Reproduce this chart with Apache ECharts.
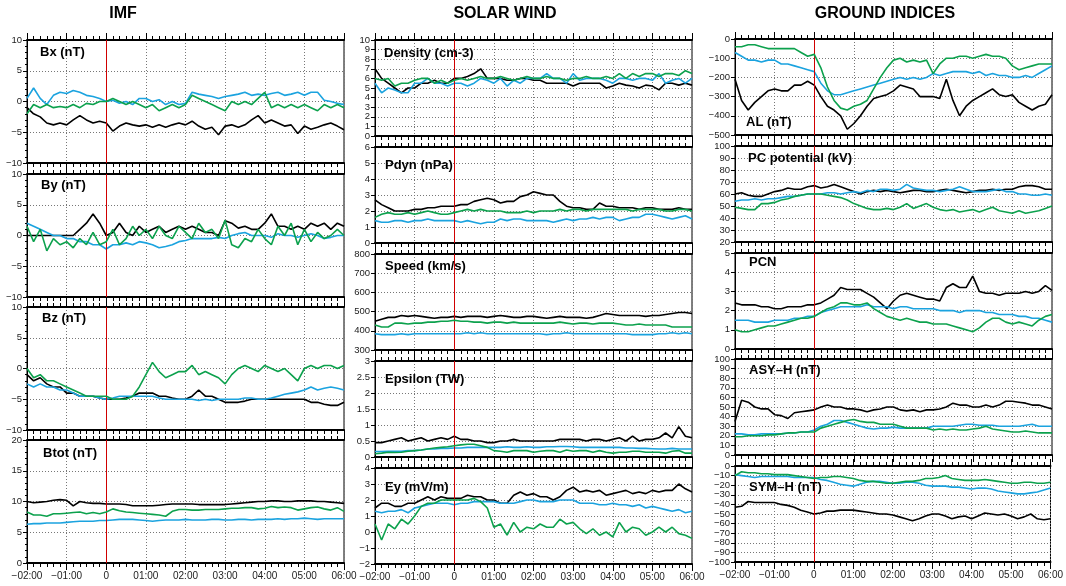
<!DOCTYPE html>
<html><head><meta charset="utf-8">
<script src="https://cdn.jsdelivr.net/npm/echarts@6/dist/echarts.min.js"></script>
<style>html,body{margin:0;padding:0;background:#fff}#c{width:1066px;height:586px}</style>
</head><body><div id="c"></div>
<script>
const times=[-120,-110,-100,-90,-80,-70,-60,-50,-40,-30,-20,-10,0,10,20,30,40,50,60,70,80,90,100,110,120,130,140,150,160,170,180,190,200,210,220,230,240,250,260,270,280,290,300,310,320,330,340,350,360];
const xTicks=[-120,-60,0,60,120,180,240,300,360];
const xTickLabels=['\u221202:00','\u221201:00','0','01:00','02:00','03:00','04:00','05:00','06:00'];
const columnTitles=['IMF','SOLAR WIND','GROUND INDICES'];
const seriesColors=['#000000','#1ba3df','#0ca14d'];

// y tick labels (bottom to top)
const ytB=['\u221210','\u22125','0','5','10'];
const ytBtot=['0','5','10','15','20'];
const ytDen=['0','1','2','3','4','5','6','7','8','9','10'];
const ytPdyn=['0','1','2','3','4','5','6'];
const ytSpeed=['300','400','500','600','700','800'];
const ytEps=['0','0.5','1','1.5','2','2.5','3'];
const ytEy=['\u22122','\u22121','0','1','2','3','4'];
const ytAL=['\u2212500','\u2212400','\u2212300','\u2212200','\u2212100','0'];
const ytPC=['20','30','40','50','60','70','80','90','100'];
const ytPCN=['0','1','2','3','4','5'];
const ytASY=['0','10','20','30','40','50','60','70','80','90','100'];
const ytSYM=['\u2212100','\u221290','\u221280','\u221270','\u221260','\u221250','\u221240','\u221230','\u221220','\u221210','0'];

// IMF
const bxK=[-1,-2,-2.5,-3.5,-3.8,-3.5,-3.8, -3,-2.3,-3,-3.5,-3.2,-3.5,-4.8, -4,-3.5,-3.8,-4,-3.8,-4.2,-3.8, -4.2,-3.8,-3.5,-3.8,-3.2,-4,-4.5, -4.2,-5.4,-4,-3.8,-4.2,-3.8,-3, -2.3,-3.5,-3,-3.5,-4,-3.8,-5.2, -4,-4.5,-4.2,-3.8,-3.5,-4,-4.6];
const bxB=[0.5,2.2,0.5,-0.5,1,1.5,1.3, 1.8,1.5,1,0.8,0.5,0,0.2, -0.3,0,-0.5,0.5,0.5,0,0.3, -0.5,0,-0.5,-0.3,1.5,1.2,1, 0.8,0.5,0.8,1,1.2,1.5,1, 1.2,1,1.3,1.5,1,1.2,1.5, 1,1.5,1.5,0.2,0,-0.3,-0.5];
const bxG=[-2,-0.5,-1,-0.5,-1,-0.8,-1, -0.5,-1,-0.3,-0.5,0,0,0.5, 0,-0.5,0,-0.5,-1,-0.5,-1.5, -1,-0.5,-1,-0.5,1,0.5,0, -0.5,-1,-1.5,0,-0.5,0,-0.5, 0.5,1.5,-1,-0.5,-1,-0.5,-1, -0.5,-1,-1.5,-0.5,-1,-0.5,-1];
const byK=[0,0,0,0,0,0,0, 0,1,2,3.5,2,0,0.5, 2,0.5,0,1.5,0.5,1,1.5, 0.5,1,1.5,1,1.5,1,0.5, 0.5,0,2.4,2,1.2,1.5,1, 1,2,3.5,1.5,1.5,1,1.5, 1,2,1.5,2,1,2,1.5];
const byB=[2,1.5,1,0.5,0,0,-0.5, -0.5,-1,-1,-1.5,-1.5,-2.2,-1.5, -1.5,-1.2,-1.5,-1,-1.2,-1.5,-2, -1.8,-1.5,-1,-0.8,-0.5,-0.5,-0.5, -0.5,-0.3,-0.5,0,0.3,0.5,0, 0,0,-0.3,0.3,0,0,-0.3, 0,0.3,0,-0.5,-0.3,0,0];
const byG=[1.5,-1,1,-2.5,-0.5,-1.5,-1, -2,-0.5,-1.5,0.5,-1.5,-1,1, -1.5,-0.5,1.5,0,1,-0.5,1.5, 0,-0.5,1.5,0.5,-0.5,2,0.5, 1,-0.5,2.5,-1.5,-2,-0.5,-1, 1,-0.5,-1.5,1.5,0,2,-1.5, 1,-1,0.5,-0.5,0,1,0];
const bzK=[-1,-2,-1.5,-2.5,-3,-3,-4, -4,-4.5,-4.5,-4.5,-4.8,-5,-5, -5,-4.8,-4.5,-4,-4,-4,-4.5, -4.5,-4.8,-5,-5,-4.5,-3.5,-4.5, -4.5,-5,-5.5,-5.5,-5.5,-5.3,-5, -5,-5,-5,-5,-5,-5,-5, -5,-5.5,-5.5,-5.8,-6,-6,-5.5];
const bzB=[-2.5,-3,-2.5,-3,-3,-3.5,-3.5, -4,-4.5,-4.5,-4.5,-4.8,-5,-4.8, -4.5,-4.5,-4.5,-4.5,-4.5,-4.5,-4.8, -5,-5,-5,-5,-5,-5.2,-5, -5.2,-5,-5,-5,-5,-4.8,-4.8, -5,-5,-4.8,-4.5,-4.2,-4,-3.8, -3.5,-3,-3.5,-3.2,-3,-3.2,-3.5];
const bzG=[0,-1.5,-1,-2,-2,-2.5,-3, -3.5,-4,-4.5,-4.5,-4.5,-4.5,-5, -5,-5,-4.5,-3,-1,1,-0.5, -1.5,-1,-0.5,-0.5,0.5,-1,-0.5, -1,-1.5,-2.5,-1,0,0.5,0, -0.5,0.5,0,-0.5,0,-1,-2, 0,0.5,0,0.5,0.5,0,0.5];
const btK=[10,9.8,9.9,10,10.2,10.3,10.2, 9.3,10,9.8,9.7,9.7,9.6,9.6, 9.6,9.5,9.3,9.3,9.3,9.3,9.4, 9.5,9.6,9.6,9.6,9.6,9.5,9.5, 9.5,9.5,9.5,9.6,9.7,9.8,9.9, 10,10,10.1,10.1,10,10,10.1, 10.1,10.1,10,10,9.9,9.8,9.7];
const btB=[6.3,6.4,6.4,6.5,6.5,6.5,6.6, 6.7,6.8,6.8,6.8,6.9,6.9,7, 7.1,7.1,7.1,7,6.9,6.8,6.9, 7,7,7,7.1,7,7,7, 7.1,7.1,7,7,7.1,7.1,7, 7.1,7.1,7.1,7.2,7.1,7.2,7.2, 7.3,7.2,7.1,7.2,7.2,7.2,7.2];
const btG=[8.3,7.8,7.8,7.6,8,8,8.1, 8.2,8.3,8,8.2,8,8.3,8.8, 8.5,8.3,8.2,8.1,8,7.9,7.8, 7.6,8.4,8.7,8.7,8.6,8.6,8.7, 8.7,8.7,8.8,8.9,8.9,9,9, 8.8,8.9,9.2,9,9.1,9,8.6, 8.8,9,9.1,8.8,8.6,9,8.4];

// SOLAR WIND
const denK=[7,6,5.5,5,4.5,5,5, 5.5,5.5,5.8,5.5,5.5,6,6, 6.2,6.5,7,6,6,6,5.8, 5.8,6,6,5.8,5.8,5.5,5.5, 5.5,5.5,5.2,5.5,5.5,5.5,5.5, 5,5.2,5.5,5.3,5.2,5,5.3, 5.2,4.8,5.5,5.5,5.3,5.5,5.3];
const denB=[5.5,4.5,5,4.8,4.5,4.5,5.5, 5.5,6,5.5,5.5,5.2,5.5,5.5, 5.2,5.5,6,5.8,5.5,6,5.2, 5.8,5.5,6,6,6,6.5,6, 6,5.5,6.5,5.8,6,6,6, 5.8,5.5,6,6,5.8,6,6, 5.8,6.5,5.5,5.8,6,5.5,6];
const denG=[6,5.8,6,5.2,5.5,5.5,5.8, 6,6,5.5,5.8,5.5,5.8,6, 5.8,6,6.2,6,6,6.2,6, 5.8,6,6.2,6,6,6.2,6, 6,5.8,6,6,6.2,6,6, 6.2,6,6.5,6,6.5,6.2,6.5, 6.5,6.2,6.5,6.5,6.3,6.8,6.5];
const pdK=[2.7,2.4,2.2,2,2,2,2.1, 2.1,2.2,2.2,2.3,2.3,2.3,2.4, 2.4,2.6,2.7,2.8,2.7,2.5,2.6, 2.6,2.9,3,3.2,3.1,3,3, 2.6,2.3,2.2,2.2,2.1,2.1,2.5, 2.3,2.3,2.2,2.2,2.2,2.1,2.2, 2.2,2.1,2.1,2.1,2.2,2.1,2.1];
const pdB=[1.4,1.3,1.3,1.4,1.4,1.3,1.4, 1.4,1.5,1.4,1.4,1.4,1.4,1.3, 1.4,1.3,1.2,1.3,1.3,1.5,1.4, 1.5,1.5,1.4,1.4,1.4,1.4,1.3, 1.4,1.5,1.4,1.5,1.5,1.6,1.5, 1.6,1.6,1.4,1.5,1.6,1.6,1.8, 1.8,1.7,1.6,1.5,1.6,1.7,1.5];
const pdG=[1.6,1.8,1.9,1.8,1.8,1.9,1.8, 1.9,2,1.9,1.8,1.8,1.9,2, 2.1,2,2.1,2,2,2,1.9, 1.9,1.9,2,1.9,2,2,2, 2.1,2,2.1,2.1,2,2.1,2.1, 2.1,2.1,2.1,2.1,2,2.1,2.1, 2.1,2.1,2,2,2.1,2.1,2];
const spK=[450,460,470,470,480,475,480, 475,470,465,470,470,475, 470,475,475,475,470,475, 480,475,470,470,475,475, 470,465,470,475,470,470, 470,465,470,480,490,485, 480,480,480,480,475,480, 480,485,490,495,495,490];
const spB=[385,380,380,380,385,380,385, 385,385,385,385,385,385, 385,390,385,390,385,385, 385,385,385,385,385,385, 385,380,385,385,390,385, 385,385,385,385,385,385, 385,385,380,380,380,380, 385,385,390,385,390,385];
const spG=[430,420,420,440,440,435,440, 440,445,445,450,450,455, 450,450,445,445,440,445, 445,440,445,440,440,440, 440,440,440,445,440,435, 440,440,435,440,440,440, 435,430,430,435,430,430, 430,430,420,420,420,420];
const epK=[0.45,0.45,0.5,0.55,0.6,0.5,0.55, 0.6,0.5,0.55,0.6,0.55,0.65,0.55, 0.55,0.5,0.5,0.45,0.45,0.5,0.5, 0.55,0.5,0.5,0.5,0.5,0.5,0.5, 0.55,0.55,0.55,0.55,0.5,0.55,0.55, 0.5,0.55,0.6,0.5,0.65,0.5,0.55, 0.55,0.6,0.75,0.6,0.95,0.65,0.6];
const epB=[0.17,0.17,0.18,0.18,0.18,0.2,0.2, 0.22,0.25,0.25,0.27,0.27,0.28,0.28, 0.3,0.3,0.3,0.3,0.3,0.3,0.32, 0.3,0.3,0.32,0.3,0.3,0.32,0.32, 0.33,0.33,0.32,0.3,0.3,0.3,0.3, 0.3,0.3,0.3,0.28,0.28,0.27,0.27, 0.26,0.25,0.25,0.27,0.25,0.25,0.25];
const epG=[0.1,0.12,0.15,0.14,0.15,0.18,0.2, 0.22,0.25,0.28,0.3,0.32,0.35,0.38, 0.4,0.4,0.35,0.3,0.2,0.18,0.15, 0.2,0.2,0.2,0.15,0.18,0.2,0.2, 0.15,0.22,0.18,0.2,0.2,0.15,0.2, 0.15,0.12,0.15,0.15,0.18,0.18,0.15, 0.15,0.15,0.12,0.18,0.2,0.12,0.12];
const eyK=[1.5,1.8,1.8,1.6,1.6,1.8,1.8, 2,2.2,2,2.2,2.1,2.1,2.1, 2.3,2.2,2.2,2,2,1.8,1.8, 2.3,2.5,2.3,2.4,2.2,2.2,2, 2.2,2.6,2.8,2.5,2.6,2.5,2.6, 2.3,2.4,2.5,2.6,2.4,2.5,2.4, 2.6,2.5,2.6,2.6,3,2.7,2.5];
const eyB=[1.3,1.2,1.3,1.3,1.4,1.2,1.5, 1.6,1.7,1.8,1.8,1.8,1.7,1.8, 1.8,1.9,1.9,1.9,1.9,1.8,1.8, 1.8,1.9,2,2,1.9,1.9,1.9, 2,2,2,1.8,1.8,1.8,1.7, 1.7,1.8,1.7,1.7,1.6,1.7,1.5, 1.6,1.5,1.4,1.3,1.4,1.2,1.3];
const eyG=[0.5,-0.5,0.5,0.2,0.8,0.5,1, 1.6,1.8,1.8,2,2,2,2, 2,2.1,1.9,1.5,0.3,0.5,-0.2, 0.6,0,0.3,0.2,0.5,0.3,0.3, 0.8,0.5,0.6,0.2,-0.1,0.2,-0.2, 0,-0.3,0.6,0,0.3,0.2,-0.2, 0,0.3,0,0.3,-0.1,-0.2,-0.4];

// GROUND INDICES
const alK=[-210,-320,-370,-330,-300,-270,-260, -270,-270,-240,-240,-220,-240,-300, -350,-370,-400,-470,-440,-400,-350, -310,-300,-290,-270,-240,-250,-260, -300,-300,-300,-310,-210,-320,-400, -350,-320,-300,-280,-260,-290,-300, -290,-330,-350,-370,-350,-340,-290];
const alB=[-70,-90,-110,-110,-120,-110,-110, -130,-130,-140,-150,-160,-170,-230, -270,-290,-290,-280,-270,-260,-250, -240,-230,-220,-210,-200,-210,-200, -210,-200,-180,-190,-180,-170,-170, -170,-180,-170,-190,-180,-190,-190, -200,-200,-190,-200,-180,-160,-140];
const alG=[-40,-40,-30,-30,-40,-50,-50, -50,-50,-50,-70,-90,-80,-150, -250,-320,-360,-370,-350,-340,-320, -260,-200,-150,-110,-100,-120,-110, -120,-110,-180,-130,-100,-100,-90, -90,-100,-90,-80,-90,-90,-100, -140,-160,-150,-140,-130,-130,-130];
const pcK=[60,61,59,58,58,60,62, 63,65,64,64,66,67,65, 66,68,66,64,62,60,62, 63,62,63,62,61,62,63, 63,62,62,63,64,63,62, 61,62,63,63,64,63,64, 64,66,67,67,66,64,64];
const pcB=[54,55,55,56,55,56,56, 57,58,58,59,60,60,60, 61,61,60,61,62,61,63, 62,64,64,63,64,68,65, 64,63,63,62,63,64,66, 64,62,62,62,63,64,62, 62,60,60,59,59,60,59];
const pcG=[49,48,47,47,52,52,53, 55,56,58,59,60,60,60, 59,58,57,55,52,50,48, 47,47,48,47,49,52,48, 50,52,49,47,46,47,45, 46,47,45,47,49,46,45, 44,46,44,45,46,48,50];
const pcnK=[2.4,2.3,2.3,2.3,2.2,2.2,2.1, 2.1,2.2,2.2,2.2,2.3,2.3,2.4, 2.6,2.8,3.2,3.1,3.1,3.1,2.9, 2.7,2.4,2.1,2.5,2.8,2.9,2.8, 2.7,2.6,2.6,2.5,3.2,3.4,3.2, 3.2,3.8,3,2.9,2.9,2.8,2.9, 2.9,2.9,3,2.9,3,3.3,3.05];
const pcnB=[1.5,1.5,1.5,1.4,1.4,1.4,1.5, 1.5,1.5,1.6,1.6,1.7,1.7,1.9, 2,2.1,2.2,2.2,2.2,2.2,2.3, 2.2,2.2,2.2,2.1,2.2,2.2,2.1, 2.1,2.1,2.1,2,2,2,1.9, 2,2,2,1.9,1.9,1.8,1.8, 1.8,1.7,1.7,1.6,1.6,1.5,1.4];
const pcnG=[1,0.9,0.9,1,1.1,1.2,1.2, 1.3,1.4,1.5,1.6,1.6,1.7,1.9, 2.1,2.2,2.4,2.4,2.3,2.3,2.4, 2.1,1.9,1.7,1.6,1.5,1.6,1.5, 1.4,1.4,1.3,1.3,1.3,1.2,1.1, 1,0.9,1.1,1.4,1.6,1.6,1.4, 1.3,1.4,1.3,1.2,1.5,1.7,1.8];
const asK=[35,57,55,50,48,48,42, 41,38,44,45,46,47,50, 52,50,50,48,48,47,45, 47,48,50,50,47,46,47, 45,47,47,48,50,54,52, 52,50,50,52,50,52,56, 56,55,54,52,52,50,48];
const asB=[22,22,21,21,22,22,22, 22,23,23,24,24,26,30, 32,36,36,34,32,30,28, 27,28,28,29,28,28,28, 28,28,30,30,30,30,31, 32,32,31,31,31,30,30, 30,30,31,32,30,30,30];
const asG=[19,19,20,20,20,21,21, 22,23,23,24,24,24,28, 30,32,34,36,37,35,34, 34,32,32,32,30,28,28, 28,28,26,27,26,27,26, 26,27,28,30,27,26,25, 24,24,25,24,23,23,23];
const symK=[-43,-42,-37,-38,-38,-38,-38, -40,-41,-43,-46,-48,-50, -49,-47,-47,-46,-46,-46, -47,-48,-49,-50,-50,-51, -53,-55,-57,-55,-52,-50, -50,-52,-55,-53,-52,-55, -52,-49,-50,-51,-50,-52, -55,-53,-50,-55,-56,-55];
const symB=[-9,-10,-11,-12,-11,-11,-11, -11,-11,-12,-12,-12,-12, -14,-15,-17,-19,-20,-21, -19,-17,-16,-16,-17,-18, -18,-17,-17,-18,-20,-21, -21,-21,-22,-22,-23,-24, -23,-23,-24,-26,-27,-28, -29,-29,-28,-27,-25,-23];
const symG=[-10,-6,-7,-7,-8,-8,-9, -9,-9,-10,-11,-12,-13, -12,-12,-11,-11,-12,-13, -15,-16,-16,-17,-18,-18, -17,-16,-16,-15,-13,-13, -12,-10,-13,-14,-15,-15, -15,-14,-15,-16,-17,-18, -18,-17,-17,-18,-18,-17];

const panelDefs=[
 {c:0,r:0,label:'Bx (nT)',min:-10,max:10,iv:5,minor:5,yt:ytB,d:[bxK,bxB,bxG],lx:13,ly:12},
 {c:0,r:1,label:'By (nT)',min:-10,max:10,iv:5,minor:5,yt:ytB,d:[byK,byB,byG],lx:14,ly:11},
 {c:0,r:2,label:'Bz (nT)',min:-10,max:10,iv:5,minor:5,yt:ytB,d:[bzK,bzB,bzG],lx:15,ly:11},
 {c:0,r:3,label:'Btot (nT)',min:0,max:20,iv:5,minor:5,yt:ytBtot,d:[btK,btB,btG],lx:16,ly:13,bottom:true},
 {c:1,r:0,label:'Density (cm-3)',min:0,max:10,iv:1,minor:0,yt:ytDen,d:[denK,denB,denG],lx:9,ly:13},
 {c:1,r:1,label:'Pdyn (nPa)',min:0,max:6,iv:1,minor:0,yt:ytPdyn,d:[pdK,pdB,pdG],lx:10,ly:18},
 {c:1,r:2,label:'Speed (km/s)',min:300,max:800,iv:100,minor:0,yt:ytSpeed,d:[spK,spB,spG],lx:10,ly:12},
 {c:1,r:3,label:'Epsilon (TW)',min:0,max:3,iv:0.5,minor:0,yt:ytEps,d:[epK,epB,epG],lx:10,ly:18},
 {c:1,r:4,label:'Ey (mV/m)',min:-2,max:4,iv:1,minor:0,yt:ytEy,d:[eyK,eyB,eyG],lx:10,ly:19,bottom:true},
 {c:2,r:0,label:'AL (nT)',min:-500,max:0,iv:100,minor:0,yt:ytAL,d:[alK,alB,alG],lx:11,ly:83},
 {c:2,r:1,label:'PC potential (kV)',min:20,max:100,iv:10,minor:0,yt:ytPC,d:[pcK,pcB,pcG],lx:13,ly:12},
 {c:2,r:2,label:'PCN',min:0,max:5,iv:1,minor:0,yt:ytPCN,d:[pcnK,pcnB,pcnG],lx:14,ly:9},
 {c:2,r:3,label:'ASY\u2013H (nT)',min:0,max:100,iv:10,minor:0,yt:ytASY,d:[asK,asB,asG],lx:14,ly:11},
 {c:2,r:4,label:'SYM\u2013H (nT)',min:-100,max:0,iv:10,minor:0,yt:ytSYM,d:[symK,symB,symG],lx:14,ly:21,bottom:true}
];

const cols=[{left:27,tops:[40,174,307,440],h:123,tx:123},{left:375,tops:[40,147,254,361,468],h:96,tx:505},{left:735,tops:[39,146,253,359,466],h:96,tx:885}];
const W=317;
const FONT='"Liberation Sans", Arial, Helvetica, sans-serif';
const NARROW='"Liberation Sans Narrow", "Liberation Sans", Arial, sans-serif';

const grid=[],xAxis=[],yAxis=[],series=[],graphic=[];
panelDefs.forEach((p,i)=>{
  const col=cols[p.c], top=col.tops[p.r];
  grid.push({left:col.left,top:top,width:W,height:col.h,show:true,borderColor:'#000',borderWidth:1,backgroundColor:'transparent'});
  const base={gridIndex:i,type:'value',min:-120,max:360,interval:60,
    axisLine:{show:true,onZero:false,lineStyle:{color:'#000',width:2}},
    axisTick:{show:true,inside:false,length:7,lineStyle:{color:'#000',width:1}},
    minorTick:{show:true,splitNumber:6,length:4,lineStyle:{color:'#000',width:1}}};
  xAxis.push(Object.assign({},base,{position:'bottom',
    splitLine:{show:true,lineStyle:{color:'#777',width:1,type:[1,2]}},
    axisLabel:{show:!!p.bottom,fontSize:10,color:'#222',fontFamily:NARROW,margin:8,
      showMinLabel:true,showMaxLabel:true,hideOverlap:false,
      formatter:v=>{const k=xTicks.indexOf(v);return k>=0?xTickLabels[k]:'';}}}));
  xAxis.push(Object.assign({},base,{position:'top',splitLine:{show:false},axisLabel:{show:false}}));
  // value axis: scale, ticks, grid lines
  yAxis.push({gridIndex:i,type:'value',min:p.min,max:p.max,interval:p.iv,position:'left',
    axisLine:{show:true,onZero:false,lineStyle:{color:'#000',width:1}},
    axisTick:{show:true,inside:false,length:4,lineStyle:{color:'#000'}},
    minorTick:{show:p.minor>0,splitNumber:p.minor||5,length:2,lineStyle:{color:'#000'}},
    splitLine:{show:true,lineStyle:{color:'#777',width:1,type:[1,2]}},
    axisLabel:{show:false}});
  // label axis: one label per major tick, all shown
  yAxis.push({gridIndex:i,type:'category',data:p.yt,boundaryGap:false,position:'left',
    axisLine:{show:false},axisTick:{show:false},splitLine:{show:false},
    axisLabel:{show:true,interval:0,fontSize:9.5,color:'#222',fontFamily:NARROW,margin:5}});
  p.d.forEach((arr,j)=>{
    const s={type:'line',xAxisIndex:2*i,yAxisIndex:2*i,showSymbol:false,symbol:'none',
      data:times.map((t,k)=>[t,arr[k]]),
      lineStyle:{color:seriesColors[j],width:1.6},itemStyle:{color:seriesColors[j]},
      z:3+j,animation:false,silent:true};
    if(j===0){s.markLine={silent:true,symbol:'none',label:{show:false},animation:false,
      lineStyle:{color:'#d00000',width:1,type:'solid'},data:[{xAxis:0}]};}
    series.push(s);
  });
  graphic.push({type:'text',x:col.left+p.lx,y:top+p.ly,z:100,
    style:{text:p.label,font:'bold 13px '+FONT,fill:'#000',align:'left',verticalAlign:'middle'}});
});
cols.forEach((c,i)=>graphic.push({type:'text',x:c.tx,y:14,z:100,
  style:{text:columnTitles[i],font:'bold 16px '+FONT,fill:'#000',align:'center',verticalAlign:'middle'}}));

const chart=echarts.init(document.getElementById('c'),null,{renderer:'canvas'});
chart.setOption({animation:false,backgroundColor:'#fff',grid,xAxis,yAxis,series,graphic});
</script></body></html>
